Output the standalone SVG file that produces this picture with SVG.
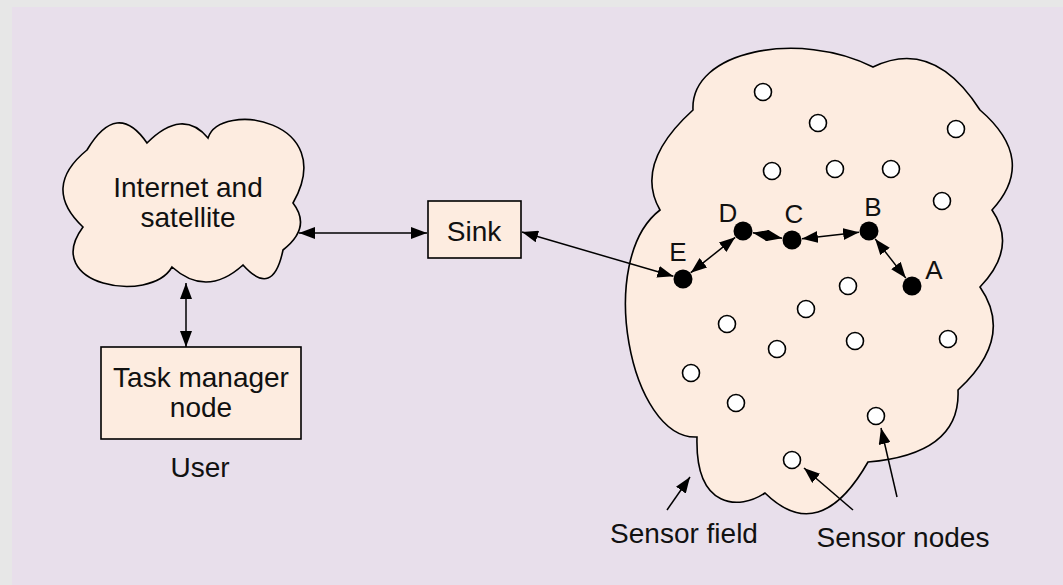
<svg xmlns="http://www.w3.org/2000/svg" width="1063" height="585" viewBox="0 0 1063 585">
  <defs>
    <marker id="head" markerUnits="userSpaceOnUse" markerWidth="16" markerHeight="12" refX="16" refY="6" orient="auto-start-reverse">
      <path d="M0,0 L16,6 L0,12 z" fill="#000"/>
    </marker>
    <style>
      .shape { fill: #fdece0; stroke: #000; stroke-width: 1.6; }
      .label { font-family: "Liberation Sans", Arial, sans-serif; font-size: 28px; fill: #111; text-anchor: middle; }
      .letter { font-family: "Liberation Sans", Arial, sans-serif; font-size: 26px; fill: #111; text-anchor: middle; }
      .sensor { fill: #fff; stroke: #000; stroke-width: 1.6; }
      .active { fill: #000; }
      .link { stroke: #000; stroke-width: 1.5; fill: none; }
      .both { marker-start: url(#head); marker-end: url(#head); }
      .one { marker-end: url(#head); }
    </style>
  </defs>

  <!-- page and panel -->
  <rect x="0" y="0" width="1063" height="585" fill="#e7e7e7"/>
  <rect x="12" y="7" width="1051" height="578" fill="#e8dfeb"/>

  <!-- Internet and satellite cloud -->
  <g id="internet">
    <path class="shape" d="M87,150 Q117,99.5 147,143 Q182.5,107.5 208,138 C220,100 340,120 293,203 Q312,227.5 283,250 Q273,298.5 243,265 Q206.5,298 172,267 C150,305 40,285 83,227 Q41,187.5 87,150 Z"/>
    <text class="label" x="188" y="197">Internet and</text>
    <text class="label" x="188" y="227">satellite</text>
  </g>

  <!-- Sink -->
  <g id="sink">
    <rect class="shape" x="428" y="201" width="93" height="57"/>
    <text class="label" x="474" y="241">Sink</text>
  </g>

  <!-- Task manager node -->
  <g id="task-manager">
    <rect class="shape" x="101" y="347" width="200" height="92"/>
    <text class="label" x="201" y="387">Task manager</text>
    <text class="label" x="201" y="417">node</text>
    <text class="label" x="200" y="477">User</text>
  </g>

  <!-- Sensor field cloud -->
  <g id="sensor-field">
    <path class="shape" d="M693,110 C690,50 800,30 873,67 Q933.5,37.5 980,110 Q1038,160 992,210 Q1018,247.5 980,287 Q1015,337.5 958,390 Q961,454 868,462 Q819.5,546.5 765,493 C740,510 695,510 697,437 C630,440 595,260 660,210 Q633.5,164 693,110 Z"/>
    <text class="label" x="684" y="543">Sensor field</text>
    <text class="label" x="903" y="547">Sensor nodes</text>
  </g>

  <!-- idle sensor nodes -->
  <g id="sensor-nodes">
    <circle id="s1" class="sensor" cx="763" cy="92" r="8.5"/>
    <circle id="s2" class="sensor" cx="818" cy="123" r="8.5"/>
    <circle id="s3" class="sensor" cx="956" cy="129" r="8.5"/>
    <circle id="s4" class="sensor" cx="772" cy="171" r="8.5"/>
    <circle id="s5" class="sensor" cx="835" cy="169" r="8.5"/>
    <circle id="s6" class="sensor" cx="891" cy="169" r="8.5"/>
    <circle id="s7" class="sensor" cx="942" cy="201" r="8.5"/>
    <circle id="s8" class="sensor" cx="848" cy="286" r="8.5"/>
    <circle id="s9" class="sensor" cx="806" cy="309" r="8.5"/>
    <circle id="s10" class="sensor" cx="727" cy="324" r="8.5"/>
    <circle id="s11" class="sensor" cx="777" cy="349" r="8.5"/>
    <circle id="s12" class="sensor" cx="855" cy="341" r="8.5"/>
    <circle id="s13" class="sensor" cx="948" cy="339" r="8.5"/>
    <circle id="s14" class="sensor" cx="691" cy="373" r="8.5"/>
    <circle id="s15" class="sensor" cx="736" cy="403" r="8.5"/>
    <circle id="s16" class="sensor" cx="876" cy="416" r="8.5"/>
    <circle id="s17" class="sensor" cx="792" cy="460" r="8.5"/>
  </g>

  <!-- relay path nodes -->
  <g id="node-E"><circle class="active" cx="683" cy="279" r="9.5"/><text class="letter" x="678" y="261">E</text></g>
  <g id="node-D"><circle class="active" cx="743" cy="231" r="9.5"/><text class="letter" x="728" y="222">D</text></g>
  <g id="node-C"><circle class="active" cx="792" cy="240" r="9.5"/><text class="letter" x="794" y="223">C</text></g>
  <g id="node-B"><circle class="active" cx="869" cy="231" r="9.5"/><text class="letter" x="873" y="216">B</text></g>
  <g id="node-A"><circle class="active" cx="912" cy="286" r="9.5"/><text class="letter" x="934" y="279">A</text></g>

  <!-- connectors -->
  <g id="connectors">
    <line class="link both" x1="299" y1="233" x2="427" y2="233"/>
    <line class="link both" x1="522" y1="232" x2="673.4" y2="276.3"/>
    <line class="link both" x1="186" y1="283" x2="186" y2="347"/>
    <line class="link both" x1="690.8" y1="272.7" x2="735.2" y2="237.3"/>
    <line class="link both" x1="752.8" y1="232.8" x2="782.2" y2="238.2"/>
    <line class="link both" x1="801.9" y1="238.8" x2="859.1" y2="232.2"/>
    <line class="link both" x1="875.2" y1="238.9" x2="905.8" y2="278.1"/>
    <line class="link one" x1="667" y1="510" x2="690" y2="477"/>
    <line class="link one" x1="853" y1="510" x2="804" y2="468"/>
    <line class="link one" x1="897" y1="497" x2="881" y2="428"/>
  </g>
</svg>
